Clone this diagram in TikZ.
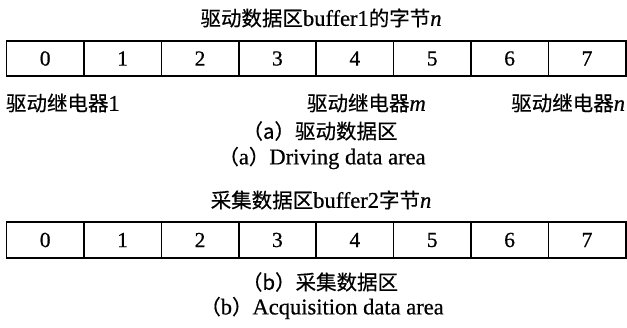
\documentclass[tikz,border=0pt]{standalone}
\usepackage{fontspec}
\setmainfont{Liberation Serif}[FakeBold=0.6]
\newfontfamily\cjkfam{Noto Sans CJK SC}[FakeBold=0.4]
% Chinese runs are set a little smaller than the Latin text around them
\newcommand\hz[1]{{\fontsize{20.5}{24}\cjkfam #1}}
\begin{document}
\begin{tikzpicture}[x=1pt,y=-1pt,
  every node/.style={inner sep=0pt,outer sep=0pt,font=\fontsize{22.5}{26}\selectfont},
  cell/.style={draw,line width=1.6pt,minimum width=77.4pt,anchor=north west,
    font=\fontsize{21.5}{24}\selectfont},
  cellA/.style={cell,minimum height=35pt},
  cellB/.style={cell,minimum height=36pt}]
\useasboundingbox (0,0) rectangle (627,327);

% driving data area
\node (titleA) at (321,18) {\hz{驱动数据区}buffer1\hz{的字节}\textit{n}};
\foreach \i in {0,...,7}
  \node[cellA] (a\i) at ({6.5+77.4*\i},41) {\i};
\node[anchor=west] (relay1) at (6,103) {\hz{驱动继电器}1};
\node[anchor=west] (relaym) at (307,103) {\hz{驱动继电器}\textit{m}};
\node[anchor=east] (relayn) at (625,103) {\hz{驱动继电器}\textit{n}};
\node (capA1) at (320,131) {\hz{（a）驱动数据区}};
\node (capA2) at (322,158) {\hz{（}a\hz{）}Driving data area};

% acquisition data area
\node (titleB) at (321,200) {\hz{采集数据区}buffer2\hz{字节}\textit{n}};
\foreach \i in {0,...,7}
  \node[cellB] (b\i) at ({6.5+77.4*\i},222) {\i};
\node (capB1) at (320,282) {\hz{（b）采集数据区}};
\node (capB2) at (322,308) {\hz{（}b\hz{）}Acquisition data area};
\end{tikzpicture}
\end{document}
